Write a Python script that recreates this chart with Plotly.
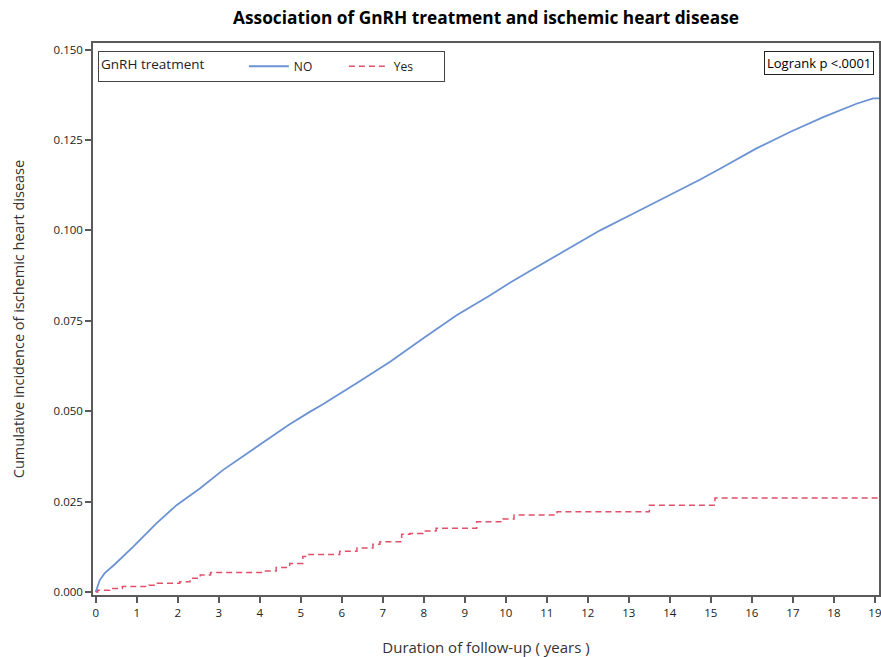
import plotly.graph_objects as go

# Cumulative incidence, GnRH treatment = NO (years, value)
no_years = [0, 0.1, 0.22, 0.46, 0.91, 1.48, 1.97, 2.54, 3.1, 3.92, 4.73, 5.22, 5.54,
            6.36, 7.17, 7.98, 8.8, 9.61, 10.1, 10.67, 11.48, 12.3, 13.1, 13.9,
            14.49, 14.73, 15.3, 16.1, 16.93, 17.74, 18.55, 18.96, 19.12]
no_vals = [0, 0.0033, 0.0052, 0.0076, 0.0125, 0.019, 0.024, 0.0286, 0.0337, 0.0401,
           0.0464, 0.0498, 0.0519, 0.0577, 0.0636, 0.0701, 0.0765, 0.082,
           0.0855, 0.0893, 0.0947, 0.1, 0.1046, 0.1092, 0.1124, 0.114, 0.1175,
           0.1226, 0.1272, 0.1313, 0.135, 0.1365, 0.1365]

# Cumulative incidence, GnRH treatment = Yes (step function)
yes_years = [0, 0.05, 0.34, 0.65, 1.3, 1.5, 2.05, 2.3, 2.55, 2.8, 4.07, 4.4, 4.73,
             5.05, 5.2, 5.95, 6.37, 6.76, 6.93, 7.46, 7.66, 7.98, 8.3, 9.29, 9.93,
             10.2, 11.25, 13.5, 15.1, 19.12]
yes_vals = [0, 0.0005, 0.001, 0.0015, 0.0019, 0.0024, 0.0028, 0.0038, 0.0047, 0.0054,
            0.0058, 0.0068, 0.0079, 0.0098, 0.0104, 0.0113, 0.0122, 0.0132, 0.0139,
            0.016, 0.0162, 0.0169, 0.0176, 0.0194, 0.0202, 0.0213, 0.0222, 0.024,
            0.026, 0.026]

x_ticks = list(range(0, 20))
y_ticks = [0, 0.025, 0.05, 0.075, 0.1, 0.125, 0.15]
y_tick_labels = ["0.000", "0.025", "0.050", "0.075", "0.100", "0.125", "0.150"]

FONT = "Open Sans"
AXIS_COLOR = "#5a5a5a"

fig = go.Figure()
fig.add_trace(go.Scatter(x=no_years, y=no_vals, mode="lines", name="NO",
                         line=dict(color="#6b93d3", width=1.8)))
fig.add_trace(go.Scatter(x=yes_years, y=yes_vals, mode="lines", name="Yes",
                         line=dict(color="#e0506a", width=1.5, dash="6px,4px", shape="hv")))

fig.update_layout(
    width=881, height=657,
    margin=dict(l=93, r=2, t=43, b=62),
    paper_bgcolor="white", plot_bgcolor="white",
    font=dict(family=FONT, size=11, color="#222"),
    title=dict(text="<b>Association of GnRH treatment and ischemic heart disease</b>",
               x=0.5, xref="paper", xanchor="center",
               y=1 - 18 / 657, yref="container", yanchor="middle",
               font=dict(family=FONT, size=17.3, color="black")),
    legend=dict(orientation="h", x=0.0064, y=0.986, xanchor="left", yanchor="top",
                bgcolor="white", bordercolor="#444", borderwidth=1,
                title=dict(text="GnRH treatment         ", side="left",
                           font=dict(family=FONT, size=13.5, color="#222")),
                font=dict(family=FONT, size=12, color="#222"),
                entrywidth=45, itemwidth=40, tracegroupgap=0),
    annotations=[dict(text="Logrank p <.0001", xref="paper", yref="paper",
                      x=0.9936, y=0.985, xanchor="right", yanchor="top",
                      showarrow=False, bordercolor="#222", borderwidth=1, borderpad=2,
                      bgcolor="white", font=dict(family=FONT, size=13, color="black"))],
)

fig.update_xaxes(range=[-0.066, 19.1], tickvals=x_ticks, ticktext=[str(v) for v in x_ticks],
                 ticks="outside", ticklen=6, tickcolor=AXIS_COLOR, tickwidth=1.5,
                 showline=True, linecolor=AXIS_COLOR, linewidth=1.5, mirror=True,
                 showgrid=False, zeroline=False, automargin=False, ticklabeloverflow="allow",
                 tickfont=dict(family=FONT, size=11.5, color="#222"),
                 title=dict(text="Duration of follow-up ( years )", standoff=24,
                            font=dict(family=FONT, size=15, color="#333")))
fig.update_yaxes(range=[-0.00083, 0.1518], tickvals=y_ticks, ticktext=y_tick_labels,
                 ticks="outside", ticklen=6, tickcolor=AXIS_COLOR, tickwidth=1.5,
                 showline=True, linecolor=AXIS_COLOR, linewidth=1.5, mirror=True,
                 showgrid=False, zeroline=False, automargin=False, ticklabeloverflow="allow",
                 tickfont=dict(family=FONT, size=11.5, color="#222"),
                 title=dict(text="Cumulative incidence of ischemic heart disease", standoff=26,
                            font=dict(family=FONT, size=14.5, color="#333")))

fig.write_html("out.html", config={"displayModeBar": False},
               post_script="document.body.style.margin='0px';")
